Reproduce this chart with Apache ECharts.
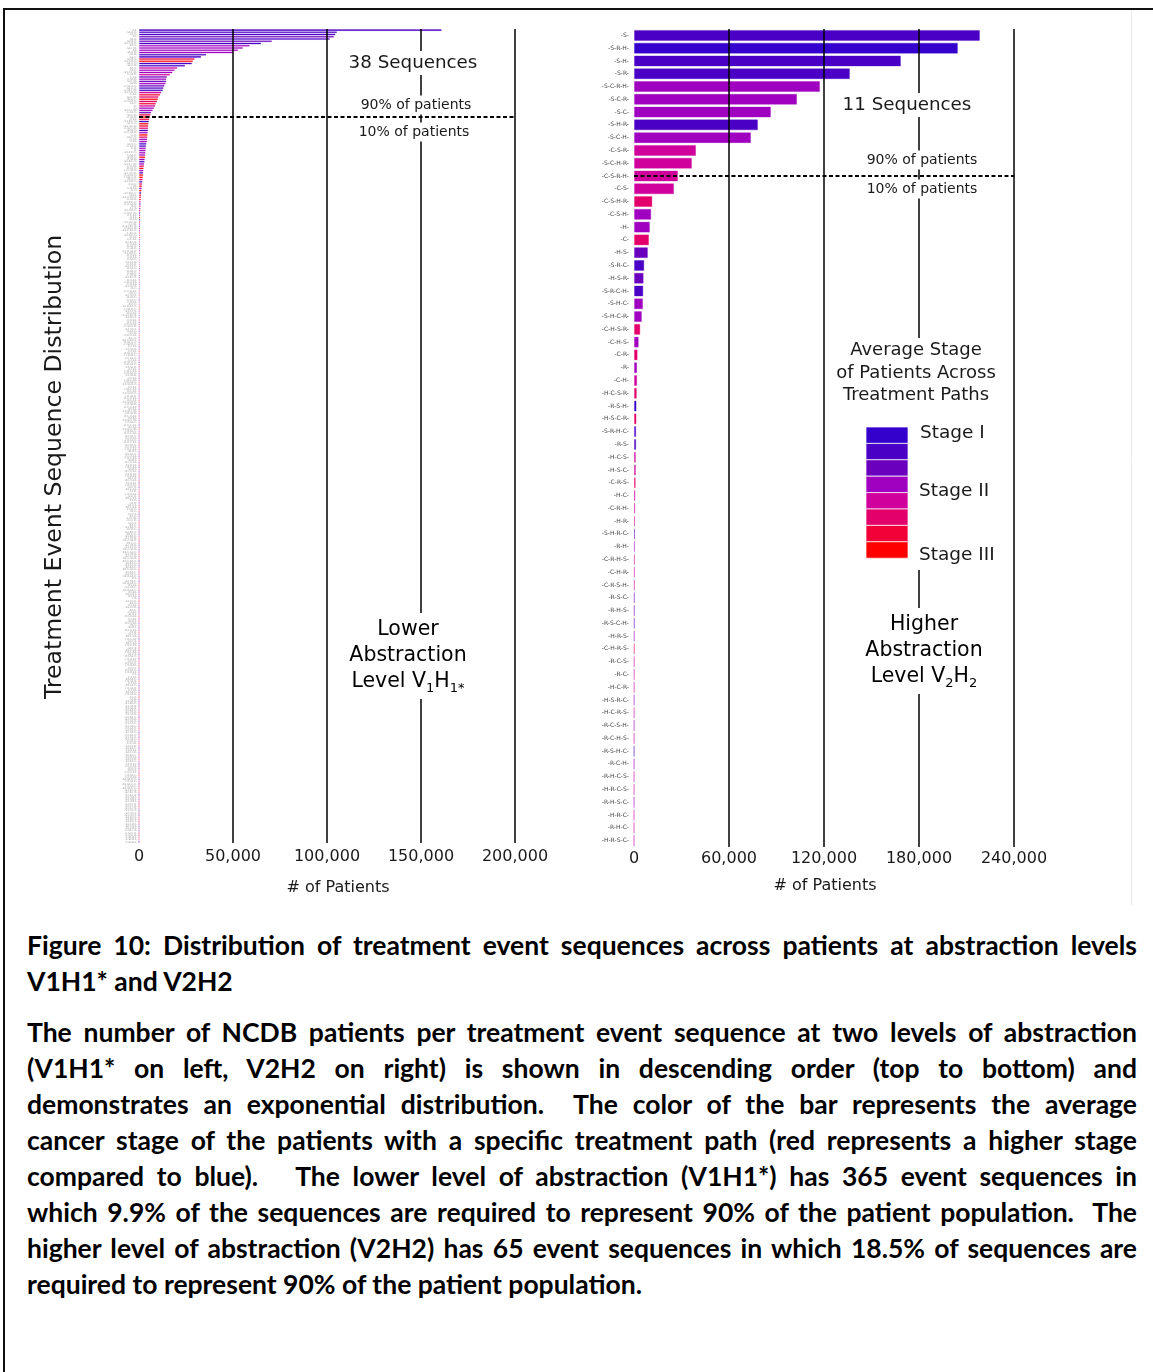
<!DOCTYPE html>
<html><head><meta charset="utf-8">
<script src="https://cdn.jsdelivr.net/npm/echarts@6/dist/echarts.min.js"></script>
<style>
html,body{margin:0;padding:0;background:#fff;}
body{width:1153px;height:1372px;position:relative;overflow:hidden;}
#chart{position:absolute;left:0;top:0;width:1153px;height:915px;}
#frame{position:absolute;left:3px;top:8px;width:1200px;height:1400px;border-left:2px solid #111;border-top:2px solid #111;pointer-events:none;z-index:5;}
#caption{position:absolute;left:27px;top:927px;width:1110px;font-family:Lato,'Noto Sans',sans-serif;font-weight:700;font-size:26.5px;line-height:36px;color:#000;}
.j{text-align:justify;text-align-last:justify;}
.l{text-align:left;}
.p2{margin-top:15px;}
</style>
</head><body>
<div id="chart"></div>
<div id="frame"></div>
<div id="caption">
<div class="j">Figure 10: Distribution of treatment event sequences across patients at abstraction levels</div>
<div class="l">V1H1* and V2H2</div>
<div class="p2">
<div class="j">The number of NCDB patients per treatment event sequence at two levels of abstraction</div>
<div class="j">(V1H1* on left, V2H2 on right) is shown in descending order (top to bottom) and</div>
<div class="j">demonstrates an exponential distribution.&nbsp; The color of the bar represents the average</div>
<div class="j">cancer stage of the patients with a specific treatment path (red represents a higher stage</div>
<div class="j">compared to blue).&nbsp;&nbsp; The lower level of abstraction (V1H1*) has 365 event sequences in</div>
<div class="j">which 9.9% of the sequences are required to represent 90% of the patient population.&nbsp; The</div>
<div class="j">higher level of abstraction (V2H2) has 65 event sequences in which 18.5% of sequences are</div>
<div class="l">required to represent 90% of the patient population.</div>
</div>
</div>
<script>
// ---------------- DATA ----------------
const catsRight = ['-S-','-S-R-H-','-S-H-','-S-R-','-S-C-R-H-','-S-C-R-','-S-C-','-S-H-R-','-S-C-H-','-C-S-R-','-S-C-H-R-','-C-S-R-H-','-C-S-','-C-S-H-R-','-C-S-H-','-H-','-C-','-H-S-','-S-R-C-','-H-S-R-','-S-R-C-H-','-S-H-C-','-S-H-C-R-','-C-H-S-R-','-C-H-S-','-C-R-','-R-','-C-H-','-H-C-S-R-','-R-S-H-','-H-S-C-R-','-S-R-H-C-','-R-S-','-H-C-S-','-H-S-C-','-C-R-S-','-H-C-','-C-R-H-','-H-R-','-S-H-R-C-','-R-H-','-C-R-H-S-','-C-H-R-','-C-R-S-H-','-R-S-C-','-R-H-S-','-R-S-C-H-','-H-R-S-','-C-H-R-S-','-R-C-S-','-R-C-','-H-C-R-','-H-S-R-C-','-H-C-R-S-','-R-C-S-H-','-R-C-H-S-','-R-S-H-C-','-R-C-H-','-R-H-C-S-','-H-R-C-S-','-R-H-S-C-','-H-R-C-','-R-H-C-','-H-R-S-C-'];
const valuesRight = [218500,204600,168600,136400,117500,103000,86500,78300,73900,39200,36600,27800,25300,11600,10900,10100,9500,
8800,6500,6100,5900,5700,5000,4000,3000,2300,2000,2000,1800,1600,1600,1400,1400,1200,1200,1100,900,800,700,600,500,
500,450,420,380,350,320,300,280,250,220,200,180,160,140,120,100,90,80,70,60,50,40,30];
// average-stage level (0 = Stage I ... 7 = Stage III)
const stageRight = [1,0,1,1,3,3,3,1,3,4, 4,4,4,5,3,3,5,2,1,2, 1,3,3,5,3,5,3,4,5,0, 5,1,1,4,4,5,4,4,4,2, 3,4,4,4,2,2,2,3,5,4, 4,4,3,4,3,4,1,3,4,4, 3,4,4,4];

const tokensLeft = ("S1 S1RH S1H S2 S1R S2RH S1CRH S2H S1HR S3 S1CR S2R S1C S3RH S2CRH S1CH S2CR S3H S2C S1CHR " +
"CS1R CS1 CS2R S2HR S3R CS1RH S2CH CS1HR S3CRH CS2 S3HR S1RC CS2RH S3C H C S2CHR CS1H S3CR CS3R " +
"HS1 S1RCH S1HC S1HCR CS2HR S2RC CHS1R CH S3CH CS3 HS2 S2HC CS3H CR R S1RHC CS2H S3RC HS1R S2RCH " +
"S3CHR CHS1 RS1H HCS1R S2HCR CS3RH HS1CR S3HC S1HRC CRH HR CRS1 HC S2RHC RS2 S1HRC2 HS2R S3RCH CHS2R RH " +
"CH2 S2HRC CS3HR HCS2 HS3 RS1 S3HCR CHR CS3RH2 HS2CR S1CR2H CRH2 S3RHC RS3 HCS1 S2RH2 CHS2 RS2H HS3R CH2S1R " +
"S3HRC RHS1 CRS2 HS1C S1C2R HC2R S2C2H RS1C RS3H HS2C CH2R S3RH2 RHS2 CRHS1 HRS1 S1HC2 RC CHRS1 HRC S2HC2 " +
"RS2C HS3C CRS3 RHC S1RC2H HS1RC S3CH2 RHS3 CS1RH3 S2RC2 HRS2 RCS1 CHRS2 HS3CR S3HC2 RS3C HCR CRHS2 RCH S2HRC2 " +
"RS1HC HS2RC C2S1 C2S1R C2S2 RS2HC HS3RC C2S1H C2S3 RS3HC CRS1H C2S2R H2S1 HRCS1 CRS2H C2S3R H2S2 HRCS2 CRS3H C2S1RH " +
"H2S3 HRCS3 RCS2 C2S2RH H2S1R RCHS1 RCS3 C2S3RH H2S2R RCHS2 R2S1 C2S1HR H2S3R RCHS3 R2S2 C2S2HR H2S1C RHCS1 R2S3 C2S3HR " +
"H2S2C RHCS2 R2S1H C2HS1 H2S3C RHCS3 R2S2H C2HS2 H2CS1 S1R2 R2S3H C2HS3 H2CS2 S2R2 R2HS1 C2RS1 H2CS3 S3R2 R2HS2 C2RS2 " +
"H2RS1 S1H2 R2HS3 C2RS3 H2RS2 S2H2 R2CS1 C2R H2RS3 S3H2 R2CS2 C2H H2R S1C2 R2CS3 C2RH H2C S2C2 R2H C2HR " +
"H2CR S3C2 R2C S1R2H H2RC S2R2H R2HC S3R2H S1H2R H2CS1R R2CH S2H2R S1C2H H2CS2R R2CS1H S3H2R S2CH2 H2CS3R R2CS2H S1R2C " +
"S3C2H S2R2C R2CS3H S3R2C S1H2C H2RS1C R3 S2H2C H2RS2C R3S1 S3H2C H2RS3C R3S2 S1CR2 R3S3 H3 S2C2R R3H H3S1 S3C2R " +
"R3C H3S2 S1R3 R3HS1 H3S3 S2R3 R3HS2 H3C S3R3 R3HS3 H3R S1H3 R3CS1 H3CS1 S2H3 R3CS2 H3CS2 S3H3 R3CS3 H3CS3 " +
"S1C3 R3S1H H3RS1 S2C3 R3S2H H3RS2 S3C3 R3S3H H3RS3 C3 C3S1 R3S1C H3S1R C3S2 R3S2C H3S2R C3S3 R3S3C H3S3R C3H " +
"C3R C3S1R S1R3H S1H3R C3S2R S2R3H S2H3R C3S3R S3R3H S3H3R C3S1H S1C3H S1H3C C3S2H S2C3H S2H3C C3S3H S3C3H S3H3C C3RH " +
"C3HR S1C3R S1R3C C3RS1 S2C3R S2R3C C3RS2 S3C3R S3R3C C3RS3 C3HS1 H3C3 R3C3 C3HS2 H3S1C C3HS3 R3S1HC H3S2C R3S2HC H3S3C " +
"R3S3HC S1RH3 S2RH3 S3RH3 S1HR3 S2HR3 S3HR3 S1CH3 S2CH3 S3CH3 S1HC3 S2HC3 S3HC3 S1RC3 S2RC3 S3RC3 S1CR3 S2CR3 S3CR3 CS1H3 " +
"CS2H3 CS3H3 CS1R3 CS2R3 CS3R3").split(' ');
const catsLeft = tokensLeft.map(t => '-' + t.match(/[A-Z]\d*/g).join('-') + '-');

const valuesLeft = [161000,105300,104500,103700,101500,70700,65000,58900,55300,52700,
50000,35800,33100,29600,28700,28200,24500,20400,19000,17800,
16500,14900,14600,14500,14200,13600,13100,12700,11900,11300,
10400,10100,9700,9000,8700,8000,7300,6500,6200,5700,
5500,5300,5100,5000,4900,4800,4700,4600,4500,4400,
4300,4000,3800,3700,3600,3500,3400,3300,3100,3000,
2800,2700,2500,2400,2300,2200,2100,2000,1850,1700,
1600,1500,1400,1300,1200,1100,1000,950,
900,860,820,790,760,730,700,680,660,640,620,600,585,570,555,540,530,
520,510,500,485,470,455,440,430,420,410,400,390,380,370,360,350,340,332,325,318,
310,302,295,288,282,276,270,264,258,252,246,240,235,230,225,220,216,212,208,204,
200,196,192,188,185,
182,179,176,173,170,167,164,161,158,155,152,150,148,146,144,142,140,138,136,134,
132,130,128,126,124,122,120,118,116,114,112,110,109,108,107,106,105,104,103,102,
101,100,99,98,97,
96,95,94,93,92,91,90,89,88,87,86,85,84,83,82,81,80,79,78,77,
76,75,74,73,72,71,70,69,68,67,66,65,64,63,62,61,60,59,58,57,
56,55,54,53,52,51,50,49,48,47,46,45,44,43,42,41,40,40,39,38,
37,37,36,35,34,34,33,32,32,31,30,30,29,28,28,27,27,26,25,25,
24,24,23,23,22,22,21,21,20,20,19,19,18,18,17,17,17,16,16,15,
15,15,14,14,14,13,13,13,12,12,12,11,11,11,10,10,10,10,9,9,
9,9,8,8,8,8,7,7,7,7,7,6,6,6,6,6,5,5,5,5,
5,5,4,4,4,4,4,4,3,3,3,3,3,3,3,3,2,2,2,2,
2,2,2,2,2,2,1,1,1,1,1,1,1,1,1,1,1,1,1,1];
const stageLeft = ("1112121333" + "3116711433" + "4232321146" + "5756433267" +
"6176513753" + "3113333731" + "3573177515" + "7371757426" +
"3514726315" + "2647153724" + "1536247153" + "6247351627" + "4153762514" + "7263514736" + "2514763251" + "4736152473" + "6152437615" + "2734615247" +
"3615247361" + "5247361524" + "7361524736" + "1524736152" + "4736152473" + "6152473615" + "2473615247" + "3615247361" + "5247361524" + "7361524736" +
"1526374152" + "6374152637" + "4152637415" + "2637415263" + "7415263741" + "5263741526" + "3741526374" + "1526374152" + "63741").split('').map(Number);

const ticksLeft = [0, 50000, 100000, 150000, 200000];
const ticksRight = [0, 60000, 120000, 180000, 240000];
const cutLeft = 39;   // 90% / 10% split position (category index)
const cutRight = 11;

// ---------------- STYLE ----------------
const PAL = ['#3300cc','#4b00c6','#6a00bd','#a000c0','#cf009c','#e4006b','#f20038','#ff0000'];
const FONT = 'DejaVu Sans';
const TXT = '#1a1a1a';
function rgba(hex, a){const n=parseInt(hex.slice(1),16);return `rgba(${n>>16&255},${n>>8&255},${n&255},${a})`;}
function mk(vals, st){return vals.map((v,i)=>{const c=PAL[st[i]!=null?st[i]:3];return {value:v,itemStyle:{color:c,borderColor:rgba(c,0.35)}};});}
const fmt = v => Number(v).toLocaleString('en-US');

const vLines = (ticks) => ticks.slice(1).map(t => ({xAxis: t}));

const chart = echarts.init(document.getElementById('chart'), null, {renderer:'canvas'});

function t(x, y, text, fs, extra){
  return {type:'text', z:100, style:Object.assign({text, x, y, fontSize:fs, fontFamily:FONT, fill:TXT,
    align:'center', verticalAlign:'middle', backgroundColor:'#fff', padding:[3,4]}, extra||{})};
}
const richAbs = {
  n:{fontSize:20.5, lineHeight:26, fontFamily:FONT, color:TXT, verticalAlign:'middle'},
  s:{fontSize:13, lineHeight:26, fontFamily:FONT, color:TXT, verticalAlign:'bottom'}
};

const graphics = [
  {type:'line', z:1, shape:{x1:1131.5,y1:10,x2:1131.5,y2:905}, style:{stroke:'#e8e8e8', lineWidth:1}},
  {type:'text', z:100, x:55, y:467, rotation:Math.PI/2, style:{text:'Treatment Event Sequence Distribution', x:0, y:0, fontSize:23.6, fontFamily:FONT, fill:TXT, align:'center', verticalAlign:'middle'}},
  t(338, 888, '# of Patients', 16, {backgroundColor:null}),
  t(825, 886, '# of Patients', 16, {backgroundColor:null}),
  t(413, 63, '38 Sequences', 18.3),
  t(416, 105, '90% of patients', 14, {padding:[3,3,2,3]}),
  t(414, 132, '10% of patients', 14, {padding:[2,3,3,3]}),
  {type:'text', z:100, style:{text:'{n|Lower}\n{n|Abstraction}\n{n|Level V}{s|1}{n|H}{s|1*}', rich:richAbs, x:408, y:656, align:'center', verticalAlign:'middle', backgroundColor:'#fff', padding:[4,4]}},
  t(907, 105, '11 Sequences', 18.3),
  t(922, 160, '90% of patients', 14, {padding:[3,3,2,3]}),
  t(922, 189, '10% of patients', 14, {padding:[2,3,3,3]}),
  {type:'rect', z:99, shape:{x:830, y:338, width:176, height:232}, style:{fill:'#fff'}},
  {type:'text', z:100, style:{text:'Average Stage\nof Patients Across\nTreatment Paths', x:916, y:373, fontSize:18, lineHeight:22.5, fontFamily:FONT, fill:TXT, align:'center', verticalAlign:'middle'}},
  t(920, 433, 'Stage I', 18.5, {align:'left', backgroundColor:null, padding:0}),
  t(919, 491, 'Stage II', 18.5, {align:'left', backgroundColor:null, padding:0}),
  t(919, 555, 'Stage III', 18.5, {align:'left', backgroundColor:null, padding:0}),
  {type:'text', z:100, style:{text:'{n|Higher}\n{n|Abstraction}\n{n|Level V}{s|2}{n|H}{s|2}', rich:richAbs, x:924, y:651, align:'center', verticalAlign:'middle', backgroundColor:'#fff', padding:[4,4]}}
];
PAL.forEach((c,i)=>graphics.push({type:'rect', z:101, shape:{x:866, y:427+i*16.4, width:42, height:16.4}, style:{fill:c, stroke:'rgba(255,255,255,0.7)', lineWidth:1}}));

const xAxisBase = (gi, ticks, margin) => ({
  gridIndex:gi, type:'value', min:ticks[0], max:ticks[ticks.length-1], interval:ticks[1]-ticks[0],
  axisLine:{show:false}, axisTick:{show:false}, splitLine:{show:false},
  axisLabel:{margin, fontSize:16, color:TXT, fontFamily:FONT, formatter:fmt}
});
const markBase = (ticks, cut) => ({
  symbol:['none','none'], silent:true, animation:false, label:{show:false},
  lineStyle:{color:'#000', width:1.5, type:'solid'},
  data: vLines(ticks).concat([{yAxis:cut, lineStyle:{color:'#000', type:[4,2.5], width:2}}])
});

chart.setOption({
  animation:false,
  backgroundColor:'transparent',
  grid:[{left:139, top:29, width:376, height:814}, {left:634, top:29, width:380, height:818}],
  xAxis:[xAxisBase(0, ticksLeft, 6), xAxisBase(1, ticksRight, 4)],
  yAxis:[
    {gridIndex:0, type:'category', inverse:true, data:catsLeft, axisLine:{show:false}, axisTick:{show:false},
     axisLabel:{interval:0, fontSize:2.6, color:'#999', margin:2, fontFamily:FONT}},
    {gridIndex:1, type:'category', inverse:true, data:catsRight, axisLine:{show:false}, axisTick:{show:false},
     axisLabel:{interval:0, fontSize:6, color:'#444', margin:5, fontFamily:FONT}}
  ],
  series:[
    {type:'bar', xAxisIndex:0, yAxisIndex:0, data:mk(valuesLeft, stageLeft), barCategoryGap:'18%',
     itemStyle:{borderWidth:0.8}, markLine:markBase(ticksLeft, cutLeft)},
    {type:'bar', xAxisIndex:1, yAxisIndex:1, data:mk(valuesRight, stageRight), barCategoryGap:'14%',
     itemStyle:{borderWidth:1}, markLine:markBase(ticksRight, cutRight)}
  ],
  graphic:graphics
});
</script>
</body></html>
